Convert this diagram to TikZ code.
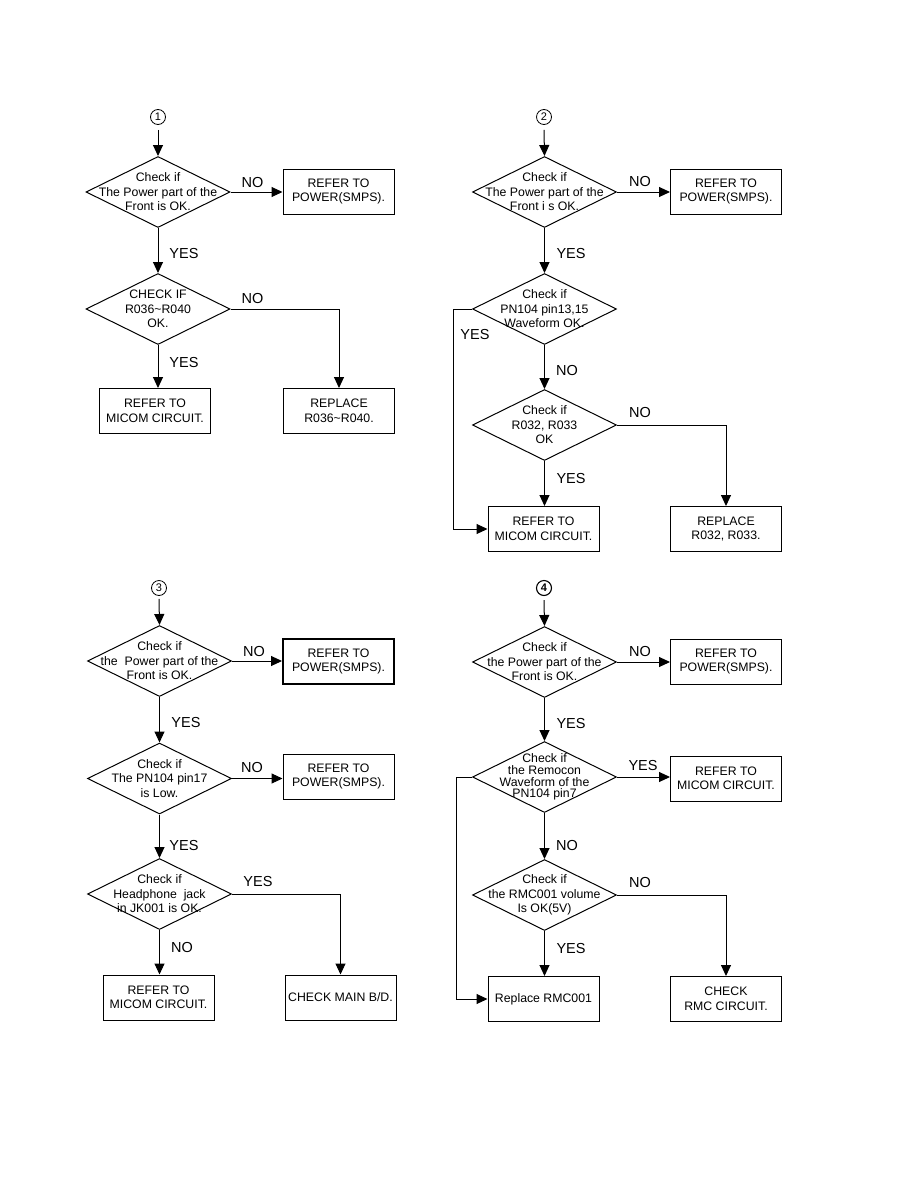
\documentclass[tikz,border=0pt]{standalone}
\usepackage{fontspec}
\setmainfont{Liberation Sans}
\usetikzlibrary{shapes.geometric,arrows.meta}
\newcommand\dfont{\fontsize{12.3}{14.5}\selectfont}
\newcommand\lfont{\fontsize{14.5}{16}\selectfont}
\newcommand\nfont{\fontsize{11}{12}\selectfont}
\newcommand\tl{\char`\~}
\tikzset{
  dec/.style={diamond, draw, line width=1pt, minimum width=144pt, minimum height=71pt, inner sep=0pt},
  dtxt/.style={align=center, font=\dfont, inner sep=0pt},
  boxn/.style={draw, line width=1pt, minimum width=111pt, minimum height=45pt, align=center, font=\dfont, inner sep=0pt},
  lbl/.style={anchor=base, font=\lfont, inner sep=0pt},
  cnum/.style={circle, draw, line width=0.8pt, minimum size=15pt, inner sep=0pt, font=\nfont},
  arr/.style={line width=1pt, -{Triangle[length=11pt,width=10pt]}},
  ln/.style={line width=1pt}
}
\begin{document}
\begin{tikzpicture}[x=1pt,y=-1pt]
\useasboundingbox (0,0) rectangle (915,1191);
\fill[white] (0,0) rectangle (915,1191);

% ================= Chart 1 =================
\node[cnum] (c1) at (158,117) {1};
\node[dec, label={[dtxt]center:Check if\\The Power part of the\\Front is OK.}] (a1) at (158,192) {};
\node[boxn] (a1p) at (338.5,191.5) {REFER TO\\POWER(SMPS).};
\node[dec, label={[dtxt]center:CHECK IF\\R036\tl R040\\OK.}] (a2) at (158,309) {};
\node[boxn] (a2m) at (155,411) {REFER TO\\MICOM CIRCUIT.};
\node[boxn] (a2r) at (339,411) {REPLACE\\R036\tl R040.};
\draw[arr] ([yshift=-5pt]c1.south) -- (a1.north);
\draw[arr] (a1.east) -- (a1.east -| a1p.west);
\draw[arr] (a1.south) -- (a2.north);
\draw[arr] (a2.east) -| (a2r.north);
\draw[arr] (a2.south) -- (a2.south |- a2m.north);
\node[lbl] (a1no) at (252.5,187) {NO};
\node[lbl] (a1yes) at (184,258) {YES};
\node[lbl] (a2no) at (252.5,303) {NO};
\node[lbl] (a2yes) at (184,367) {YES};

% ================= Chart 2 =================
\node[cnum] (c2) at (544,117) {2};
\node[dec, label={[dtxt]center:Check if\\The Power part of the\\Front i s OK.}] (b1) at (544.5,192) {};
\node[boxn] (b1p) at (726,191.5) {REFER TO\\POWER(SMPS).};
\node[dec, label={[dtxt]center:Check if\\PN104 pin13,15\\Waveform OK.}] (b2) at (544.5,309) {};
\node[dec, label={[dtxt]center:Check if\\R032, R033\\OK}] (b3) at (544.5,425) {};
\node[boxn] (b3m) at (543.5,529) {REFER TO\\MICOM CIRCUIT.};
\node[boxn] (b3r) at (726,529) {REPLACE\\R032, R033.};
\draw[arr] ([yshift=-5pt]c2.south) -- (b1.north);
\draw[arr] (b1.east) -- (b1.east -| b1p.west);
\draw[arr] (b1.south) -- (b2.north);
\draw[arr] (b2.south) -- (b3.north);
\draw[arr] (b2.west) -- ([xshift=-19pt]b2.west) |- (b3m.west);
\draw[arr] (b3.east) -| (b3r.north);
\draw[arr] (b3.south) -- (b3.south |- b3m.north);
\node[lbl] (b1no) at (640,186) {NO};
\node[lbl] (b1yes) at (571,258) {YES};
\node[lbl] (b2yes) at (475,339) {YES};
\node[lbl] (b2no) at (567,375) {NO};
\node[lbl] (b3no) at (640,417) {NO};
\node[lbl] (b3yes) at (571,483) {YES};

% ================= Chart 3 =================
\node[cnum] (c3) at (159,588) {3};
\node[dec, label={[dtxt]center:Check if\\the\ \ Power part of the\\Front is OK.}] (e1) at (159.5,661) {};
\node[boxn, line width=2pt] (e1p) at (338.5,661.5) {REFER TO\\POWER(SMPS).};
\node[dec, label={[dtxt]center:Check if\\The PN104 pin17\\is Low.}] (e2) at (159.5,778.5) {};
\node[boxn] (e2p) at (338.5,776.5) {REFER TO\\POWER(SMPS).};
\node[dec, label={[dtxt]center:Check if\\Headphone\ \ jack\\in JK001 is OK.}] (e3) at (159.5,894) {};
\node[boxn] (e3m) at (158.5,997.5) {REFER TO\\MICOM CIRCUIT.};
\node[boxn] (e3r) at (340.5,997.5) {CHECK MAIN B/D.};
\draw[arr] ([yshift=-3pt]c3.south) -- (e1.north);
\draw[arr] (e1.east) -- (e1.east -| e1p.west);
\draw[arr] (e1.south) -- (e2.north);
\draw[arr] (e2.east) -- (e2.east -| e2p.west);
\draw[arr] (e2.south) -- (e3.north);
\draw[arr] (e3.east) -| (e3r.north);
\draw[arr] (e3.south) -- (e3.south |- e3m.north);
\node[lbl] (e1no) at (254,656) {NO};
\node[lbl] (e1yes) at (186,727) {YES};
\node[lbl] (e2no) at (252,772) {NO};
\node[lbl] (e2yes) at (184,850) {YES};
\node[lbl] (e3yes) at (258,886) {YES};
\node[lbl] (e3no) at (182,952) {NO};

% ================= Chart 4 =================
\node[cnum, line width=1.1pt, font=\nfont\bfseries] (c4) at (544,588) {4};
\node[dec, label={[dtxt]center:Check if\\the Power part of the\\Front is OK.}] (f1) at (544.5,662) {};
\node[boxn] (f1p) at (726,661.5) {REFER TO\\POWER(SMPS).};
\node[dec, label={[dtxt, font=\fontsize{12.3}{11.7}\selectfont]center:Check if\\the Remocon\\Waveform of the\\PN104 pin7}] (f2) at (544.5,777) {};
\node[boxn] (f2m) at (726,778.5) {REFER TO\\MICOM CIRCUIT.};
\node[dec, label={[dtxt]center:Check if\\the RMC001 volume\\Is OK(5V)}] (f3) at (544.5,895) {};
\node[boxn] (f3m) at (543.5,999) {Replace RMC001};
\node[boxn] (f3r) at (726,999) {CHECK\\RMC CIRCUIT.};
\draw[arr] ([yshift=-4pt]c4.south) -- (f1.north);
\draw[arr] (f1.east) -- (f1.east -| f1p.west);
\draw[arr] (f1.south) -- (f2.north);
\draw[arr] (f2.east) -- (f2.east -| f2m.west);
\draw[arr] (f2.south) -- (f3.north);
\draw[arr] (f2.west) -- ([xshift=-16pt]f2.west) |- (f3m.west);
\draw[arr] (f3.east) -| (f3r.north);
\draw[arr] (f3.south) -- (f3.south |- f3m.north);
\node[lbl] (f1no) at (640,656) {NO};
\node[lbl] (f1yes) at (571,728) {YES};
\node[lbl] (f2yes) at (643,770) {YES};
\node[lbl] (f2no) at (567,850) {NO};
\node[lbl] (f3no) at (640,887) {NO};
\node[lbl] (f3yes) at (571,953) {YES};
\end{tikzpicture}
\end{document}
